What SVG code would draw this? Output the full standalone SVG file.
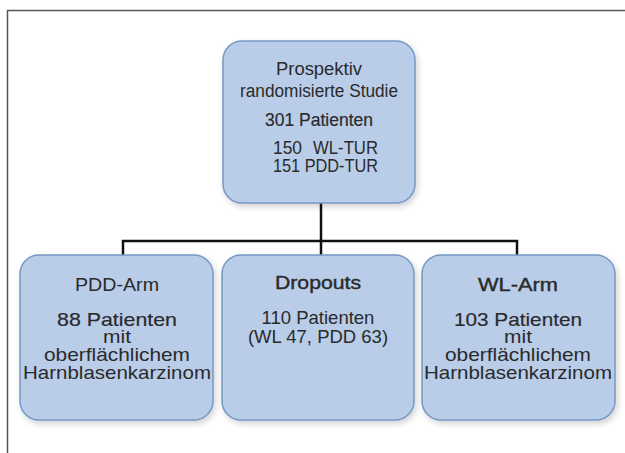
<svg xmlns="http://www.w3.org/2000/svg" width="625" height="453" viewBox="0 0 625 453">
  <defs>
    <filter id="shadow" x="-10%" y="-10%" width="125%" height="125%">
      <feGaussianBlur in="SourceAlpha" stdDeviation="3"/>
      <feOffset dx="2" dy="3" result="b"/>
      <feComponentTransfer><feFuncA type="linear" slope="0.18"/></feComponentTransfer>
      <feMerge><feMergeNode/><feMergeNode in="SourceGraphic"/></feMerge>
    </filter>
  </defs>
  <style>
    .box { fill: #b9cde9; stroke: #7698c4; stroke-width: 1.5; filter: url(#shadow); }
    .t { font-family: "Liberation Sans", Arial, sans-serif; font-size: 18px; fill: #2a2a2a; text-anchor: middle; }
    .b { font-size: 18.5px; }
    .m { stroke: #2a2a2a; stroke-width: 0.18; }
    .h { stroke: #2a2a2a; stroke-width: 0.4; }
    .link { fill: none; stroke: #111; stroke-width: 2.5; }
    .frame { fill: none; stroke: #555; stroke-width: 1.5; }
  </style>
  <rect width="625" height="453" fill="#fff"/>
  <!-- outer frame, open to the right and bottom -->
  <path class="frame" d="M7.5 453 V10.5 H625"/>

  <g id="connectors">
    <path class="link" d="M321 203 V241"/>
    <path class="link" d="M123 255 V241 H517 V255"/>
    <path class="link" d="M321 241 V255"/>
  </g>

  <g id="studie">
    <rect class="box" x="223" y="41" width="192" height="162" rx="19"/>
    <text class="t" x="319" y="75" textLength="86" lengthAdjust="spacingAndGlyphs">Prospektiv</text>
    <text class="t" x="319" y="97" textLength="158" lengthAdjust="spacingAndGlyphs">randomisierte Studie</text>
    <text class="t m" x="319" y="126" textLength="108" lengthAdjust="spacingAndGlyphs">301 Patienten</text>
    <text class="t" x="273" y="154" style="text-anchor:start" textLength="29" lengthAdjust="spacingAndGlyphs">150</text>
    <text class="t" x="378" y="154" style="text-anchor:end" textLength="65" lengthAdjust="spacingAndGlyphs">WL-TUR</text>
    <text class="t" x="273" y="172" style="text-anchor:start" textLength="105" lengthAdjust="spacingAndGlyphs">151 PDD-TUR</text>
  </g>

  <g id="pdd-arm">
    <rect class="box" x="20" y="255" width="193" height="165" rx="19"/>
    <text class="t b" x="117" y="291" textLength="84" lengthAdjust="spacingAndGlyphs">PDD-Arm</text>
    <text class="t b m" x="117" y="326" textLength="120" lengthAdjust="spacingAndGlyphs">88 Patienten</text>
    <text class="t b" x="117" y="343" textLength="28" lengthAdjust="spacingAndGlyphs">mit</text>
    <text class="t b" x="117" y="361" textLength="146" lengthAdjust="spacingAndGlyphs">oberflächlichem</text>
    <text class="t b" x="117" y="379" textLength="188" lengthAdjust="spacingAndGlyphs">Harnblasenkarzinom</text>
  </g>

  <g id="dropouts">
    <rect class="box" x="222" y="255" width="192" height="165" rx="19"/>
    <text class="t b h" x="318" y="289" textLength="86" lengthAdjust="spacingAndGlyphs">Dropouts</text>
    <text class="t b" x="318" y="324">110 Patienten</text>
    <text class="t b" x="318" y="343">(WL 47, PDD 63)</text>
  </g>

  <g id="wl-arm">
    <rect class="box" x="422" y="255" width="193" height="165" rx="19"/>
    <text class="t b h" x="518" y="291" textLength="80" lengthAdjust="spacingAndGlyphs">WL-Arm</text>
    <text class="t b m" x="518" y="326" textLength="128" lengthAdjust="spacingAndGlyphs">103 Patienten</text>
    <text class="t b" x="518" y="343" textLength="28" lengthAdjust="spacingAndGlyphs">mit</text>
    <text class="t b" x="518" y="361" textLength="146" lengthAdjust="spacingAndGlyphs">oberflächlichem</text>
    <text class="t b" x="518" y="379" textLength="188" lengthAdjust="spacingAndGlyphs">Harnblasenkarzinom</text>
  </g>
</svg>
